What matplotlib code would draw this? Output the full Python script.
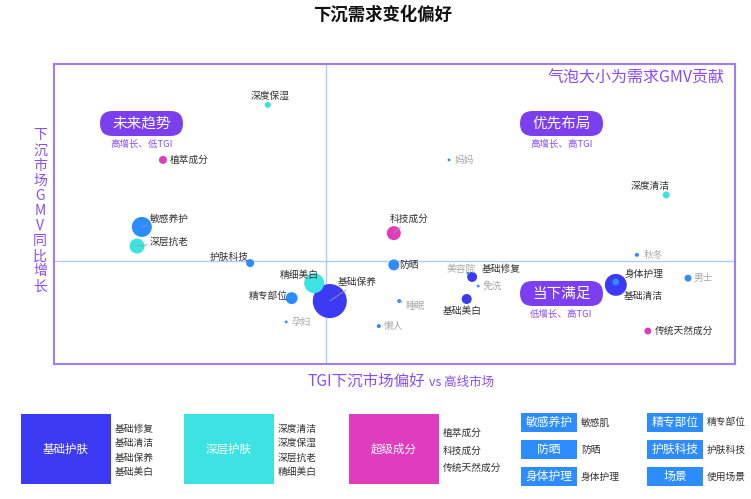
import numpy as np
import matplotlib
matplotlib.use('Agg')
import matplotlib.pyplot as plt
from matplotlib.patches import FancyBboxPatch, Rectangle

plt.rcParams['font.family'] = ['Noto Sans CJK SC', 'DejaVu Sans']

# bubble data: TGI (x), GMV growth (y), GMV share (bubble area), group
names = ['基础保养', '基础清洁', '敏感养护', '精细美白', '深层抗老', '科技成分', '精专部位', '防晒',
         '基础修复', '基础美白', '植萃成分', '护肤科技', '深度清洁', '身体护理', '男士', '传统天然成分',
         '深度保湿', '秋冬', '睡眠', '懒人', '妈妈', '孕妇', '美容院', '免洗']
tgi = [100.5, 142.5, 72.9, 98.2, 72.2, 109.9, 94.9, 109.9,
       121.4, 120.6, 76.0, 88.8, 149.9, 142.5, 153.1, 147.2,
       91.4, 145.6, 110.7, 107.7, 118.0, 94.1, 120.8, 122.3]
growth = [-13.6, -8.1, 11.6, -7.5, 5.1, 9.5, -12.6, -1.3,
          -5.4, -12.9, 34.4, -0.7, 22.5, -7.1, -5.8, -23.8,
          53.1, 2.1, -13.6, -22.1, 34.4, -20.7, -4.1, -8.5]
gmv = [290, 120, 100, 100, 56, 49, 36, 30,
       25, 25, 16, 16, 12, 12, 12, 12,
       9, 4, 4, 4, 2, 2, 2, 2]
groups = ['基础', '基础', '独立', '深层', '深层', '超级', '独立', '独立',
          '基础', '基础', '超级', '独立', '深层', '独立', '场景', '超级',
          '深层', '场景', '场景', '场景', '场景', '场景', '场景', '场景']

# legend data
legend_groups = ['基础护肤', '深层护肤', '超级成分']
legend_items = [['基础修复', '基础清洁', '基础保养', '基础美白'],
                ['深度清洁', '深度保湿', '深层抗老', '精细美白'],
                ['植萃成分', '科技成分', '传统天然成分']]
tag_names = ['敏感养护', '防晒', '身体护理', '精专部位', '护肤科技', '场景']
tag_desc = ['敏感肌', '防晒', '身体护理', '精专部位', '护肤科技', '使用场景']

quadrants = ['未来趋势', '优先布局', '当下满足']
quadrant_desc = ['高增长、低TGI', '高增长、高TGI', '低增长、高TGI']

# styles
colors = {'基础': '#3C3AF2', '深层': '#3DE3E3', '超级': '#E03CBE', '独立': '#2D8CFF', '场景': '#2D8CFF'}
purple = '#7B3FF0'
ptext = '#8A4DF5'

# label placement (offset in pixels, alignment) and leader lines
label_pos = {
    '基础保养': (8, 19, 'left'), '基础清洁': (8, -11, 'left'), '敏感养护': (8, 8, 'left'),
    '精细美白': (-15, 8, 'center'), '深层抗老': (13, 4, 'left'), '科技成分': (15, 14, 'center'),
    '精专部位': (-4, 2, 'right'), '防晒': (5, 0, 'left'), '基础修复': (10, 8, 'left'),
    '基础美白': (-4, -12, 'center'), '植萃成分': (7, 0, 'left'), '护肤科技': (-1, 6, 'right'),
    '深度清洁': (-16, 9, 'center'), '身体护理': (9, 8, 'left'), '男士': (6, 0, 'left'),
    '传统天然成分': (7, 0, 'left'), '深度保湿': (2, 9, 'center'), '秋冬': (7, 0, 'left'),
    '睡眠': (6, -5, 'left'), '懒人': (5, 0, 'left'), '妈妈': (6, 0, 'left'), '孕妇': (5, 0, 'left'),
    '美容院': (-7, 4, 'center'), '免洗': (4, 0, 'left'),
}
leaders = ['敏感养护', '深层抗老', '基础保养', '科技成分', '睡眠']

W, H = 751, 499
fig = plt.figure(figsize=(W / 100, H / 100), dpi=100)
fig.patch.set_facecolor('white')

ax = fig.add_axes([54 / W, 1 - 364 / H, 681 / W, 300 / H])
ax.set_xlim(60, 160)
ax.set_ylim(-35, 67)
ax.set_xticks([])
ax.set_yticks([])
for sp in ax.spines.values():
    sp.set_color('#A27CF6')
    sp.set_linewidth(1.5)
ax.axvline(100, color='#A9CDFE', lw=1, zorder=0)
ax.axhline(0, color='#A9CDFE', lw=1, zorder=0)

order = np.argsort(gmv)[::-1]
xs = np.array(tgi)[order]
ys = np.array(growth)[order]
ss = np.array(gmv)[order] * 2.07
cs = [colors[groups[i]] for i in order]
ax.scatter(xs, ys, s=ss, c=cs, edgecolors='none', zorder=2)

for i, n in enumerate(names):
    dx, dy, ha = label_pos[n]
    col = '#A8A8A8' if groups[i] == '场景' else '#333333'
    kw = {}
    if n in leaders:
        kw['arrowprops'] = dict(arrowstyle='-', color='#9A9A9A', lw=0.6, shrinkA=0, shrinkB=0)
    ax.annotate(n, (tgi[i], growth[i]), xytext=(dx, dy), textcoords='offset pixels',
                ha=ha, va='center', fontsize=7, color=col, zorder=4, **kw)

ax.text(0.985, 0.953, '气泡大小为需求GMV贡献', transform=ax.transAxes, ha='right', va='center',
        fontsize=11.5, color=ptext)


def fx(px):
    return px / W


def fy(py):
    return 1 - py / H


# quadrant badges
badge_centers = [(141.5, 123.5), (561.5, 123.5), (561.5, 293.5)]
for (cx, cy), q, d in zip(badge_centers, quadrants, quadrant_desc):
    bw, bh = 83, 25
    fig.add_artist(FancyBboxPatch(((cx - bw / 2) / 100, (H - cy - bh / 2) / 100), bw / 100, bh / 100,
                                  boxstyle='round,pad=0,rounding_size=0.125',
                                  transform=fig.dpi_scale_trans, fc=purple, ec='none', zorder=5))
    fig.text(fx(cx), fy(cy), q, ha='center', va='center', fontsize=10.5, color='white', zorder=6)
    fig.text(fx(cx), fy(cy + 21), d, ha='center', va='center', fontsize=6.8, color=ptext, zorder=6)

# titles
fig.text(fx(383), fy(15), '下沉需求变化偏好', ha='center', va='center', fontsize=12.5,
         fontweight='bold', color='#111111')
fig.text(fx(40), fy(211), '\n'.join('下沉市场GMV同比增长'), ha='center', va='center',
         fontsize=10, linespacing=1.1, color=ptext, multialignment='center')
fig.text(fx(425), fy(381), 'TGI下沉市场偏好', ha='right', va='center', fontsize=11.2, color=ptext)
fig.text(fx(429), fy(382), 'vs 高线市场', ha='left', va='center', fontsize=9, color=ptext)

# bottom legend: group boxes
group_colors = ['#3C3AF2', '#3DE3E3', '#E03CBE']
box_left = [21, 184, 349]
for gname, items, gc, bx in zip(legend_groups, legend_items, group_colors, box_left):
    fig.add_artist(Rectangle((fx(bx), fy(484)), 90 / W, 70 / H, transform=fig.transFigure,
                             fc=gc, ec='none'))
    fig.text(fx(bx + 45), fy(449), gname, ha='center', va='center', fontsize=8.3, color='white')
    step = 14.3 if len(items) == 4 else 17.5
    y0 = 450.5 - step * (len(items) - 1) / 2
    for k, it in enumerate(items):
        fig.text(fx(bx + 94), fy(y0 + k * step), it, ha='left', va='center', fontsize=7, color='#333333')

# bottom legend: tag boxes
tag_x = [521, 521, 521, 647, 647, 647]
tag_y = [413, 440, 467, 413, 440, 467]
for t, d, tx, ty in zip(tag_names, tag_desc, tag_x, tag_y):
    fig.add_artist(Rectangle((fx(tx), fy(ty + 19)), 56 / W, 19 / H, transform=fig.transFigure,
                             fc='#2D8CFF', ec='none'))
    fig.text(fx(tx + 28), fy(ty + 9.5), t, ha='center', va='center', fontsize=8.5, color='white')
    fig.text(fx(tx + 60), fy(ty + 9.5), d, ha='left', va='center', fontsize=7, color='#333333')

fig.savefig('out.png', dpi=100)
